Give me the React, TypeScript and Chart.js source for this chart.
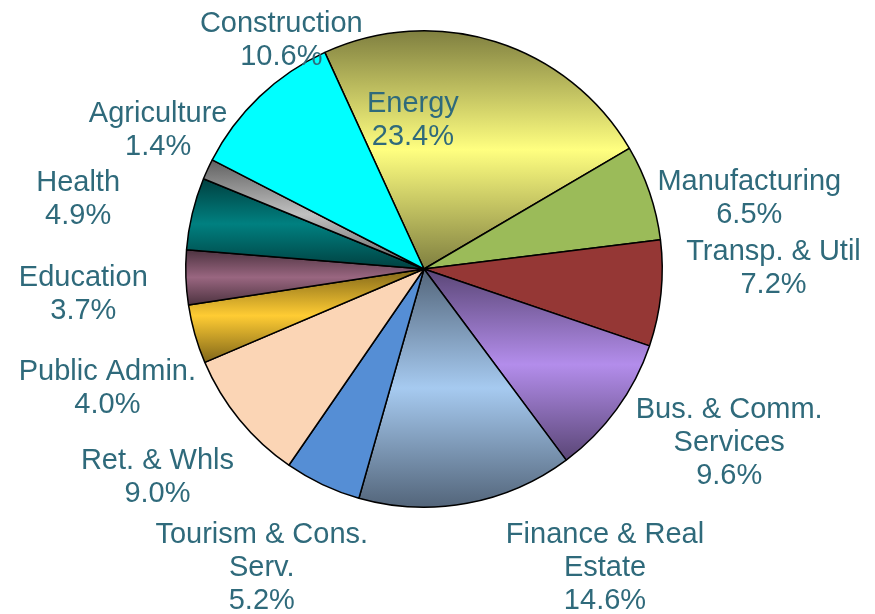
import React, { useEffect, useRef } from "react";
import { Chart, registerables } from "chart.js";

Chart.register(...registerables);

// ---- data ----
const categories: string[][] = [
  ["Energy"],
  ["Manufacturing"],
  ["Transp. & Util"],
  ["Bus. & Comm.", "Services"],
  ["Finance & Real", "Estate"],
  ["Tourism & Cons.", "Serv."],
  ["Ret. & Whls"],
  ["Public Admin."],
  ["Education"],
  ["Health"],
  ["Agriculture"],
  ["Construction"],
];
const shares: number[] = [23.4, 6.5, 7.2, 9.6, 14.6, 5.2, 9.0, 4.0, 3.7, 4.9, 1.4, 10.6];

// ---- styles ----
const lightColors = [
  "#FFFF80", "#9BBB59", "#953735", "#B38DEB", "#A6CAF0", "#558ED5",
  "#FBD5B5", "#FFCC33", "#996680", "#008080", "#C0C0C0", "#00FFFF",
];
const darkColors: (string | null)[] = [
  "#7F7F40", null, null, "#5A4676", "#53657A", null,
  null, "#806619", "#4D3340", "#004040", "#606060", null,
];
// label placement: angle (deg, clockwise from top) and distance in radii
const labelAngles = [-4.2, 77.2, 89.5, 119.3, 148.6, -151.3, -127.6, -110.2, -93.7, -78.2, -61.9, -31.6];
const labelDists = [0.636, 1.4, 1.467, 1.469, 1.458, 1.418, 1.412, 1.416, 1.433, 1.483, 1.265, 1.143];
const TEXT_COLOR = "#2F6A7B";
const FONT = "29px 'Liberation Sans', Arial, sans-serif";
const LINE_H = 33;
const TEXT_DY = 3;

const gradientPlugin = {
  id: "sliceGradient",
  beforeDatasetsDraw(chart: any) {
    const ctx = chart.ctx;
    const meta = chart.getDatasetMeta(0);
    meta.data.forEach((arc: any, i: number) => {
      const dark = darkColors[i];
      if (!dark) return;
      const { y, startAngle, endAngle, outerRadius } = arc.getProps(
        ["y", "startAngle", "endAngle", "outerRadius"], true
      );
      let minY = y, maxY = y;
      const steps = 100;
      for (let k = 0; k <= steps; k++) {
        const a = startAngle + ((endAngle - startAngle) * k) / steps;
        const py = y + Math.sin(a) * outerRadius;
        if (py < minY) minY = py;
        if (py > maxY) maxY = py;
      }
      const g = ctx.createLinearGradient(0, minY, 0, maxY);
      g.addColorStop(0, dark);
      g.addColorStop(0.5, lightColors[i]);
      g.addColorStop(1, dark);
      arc.options.backgroundColor = g;
    });
  },
};

const labelPlugin = {
  id: "sliceLabels",
  afterDatasetsDraw(chart: any) {
    const ctx = chart.ctx;
    const meta = chart.getDatasetMeta(0);
    const arc0 = meta.data[0];
    if (!arc0) return;
    const { x, y, outerRadius } = arc0.getProps(["x", "y", "outerRadius"], true);
    ctx.save();
    ctx.font = FONT;
    ctx.fillStyle = TEXT_COLOR;
    ctx.textAlign = "center";
    ctx.textBaseline = "middle";
    categories.forEach((lines, i) => {
      const a = (labelAngles[i] * Math.PI) / 180;
      const d = labelDists[i] * outerRadius;
      const cx = x + Math.sin(a) * d;
      const cy = y - Math.cos(a) * d + TEXT_DY;
      const all = [...lines, shares[i].toFixed(1) + "%"];
      const top = cy - ((all.length - 1) * LINE_H) / 2;
      all.forEach((t, k) => ctx.fillText(t, cx, top + k * LINE_H));
    });
    ctx.restore();
  },
};

export default function App() {
  const ref = useRef<HTMLCanvasElement>(null);
  useEffect(() => {
    document.body.style.margin = "0";
    if (!ref.current) return;
    const chart = new Chart(ref.current, {
      type: "pie",
      data: {
        labels: categories.map((c) => c.join(" ")),
        datasets: [
          {
            data: shares,
            backgroundColor: lightColors,
            borderColor: "#000000",
            borderWidth: 1.5,
          },
        ],
      },
      options: {
        responsive: false,
        animation: false,
        rotation: -24.6,
        layout: { padding: { top: 30, bottom: 106, left: 185, right: 212 } },
        plugins: {
          legend: { display: false },
          tooltip: { enabled: false },
        },
      },
      plugins: [gradientPlugin, labelPlugin],
    });
    return () => chart.destroy();
  }, []);
  return (
    <div style={{ width: 875, height: 614, background: "#ffffff" }}>
      <canvas ref={ref} width={875} height={614} />
    </div>
  );
}
